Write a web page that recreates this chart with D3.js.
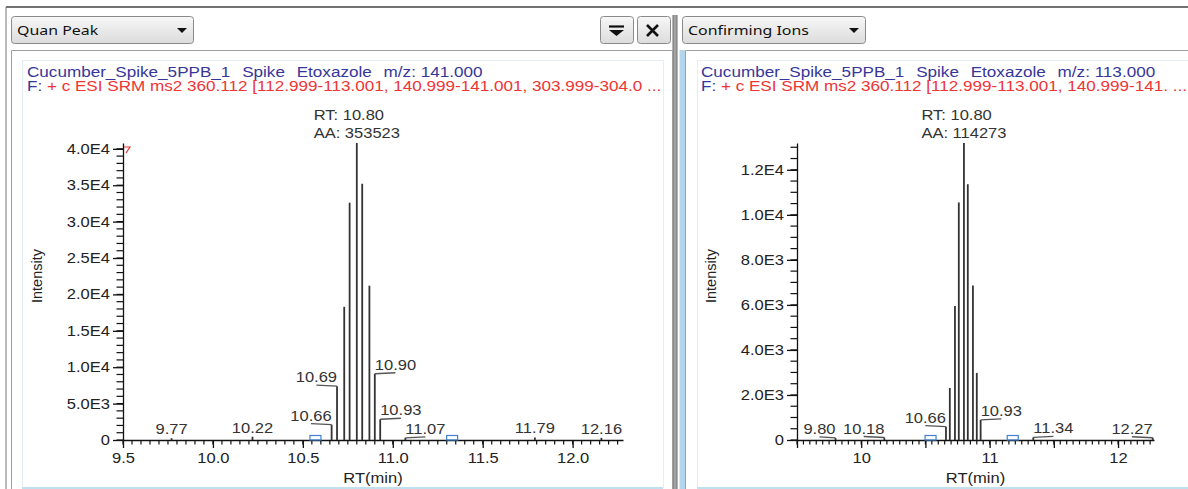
<!DOCTYPE html>
<html>
<head>
<meta charset="utf-8">
<script src="https://cdn.jsdelivr.net/npm/d3@7"></script>
<style>
body { margin: 0; background: #fff; }
svg { display: block; font-family: "Liberation Sans", Arial, sans-serif; }
.axis path, .axis line { stroke: #111; stroke-width: 1.3; }
.axis text { fill: #222; font-size: 14px; font-family: "Liberation Sans", Arial, sans-serif; }
</style>
</head>
<body>
<script>
// header info
var sampleName = "Cucumber_Spike_5PPB_1", sampleType = "Spike", compound = "Etoxazole";
var quanMz = "141.000", confMz = "113.000";
var quanFilter = "+ c ESI SRM ms2 360.112 [112.999-113.001, 140.999-141.001, 303.999-304.0 ...";
var confFilter = "+ c ESI SRM ms2 360.112 [112.999-113.001, 140.999-141. ...";
var apexRT = 10.80, quanArea = 353523, confArea = 114273;

// chromatogram sticks (RT in min, intensity)
var quanRT  = [9.77, 10.22, 10.66, 10.69, 10.73, 10.76, 10.80, 10.83, 10.87, 10.90, 10.93, 11.07, 11.79, 12.16];
var quanInt = [250, 450, 2100, 7400, 18300, 32600, 40800, 35200, 21200, 9100, 2850, 300, 350, 300];
var confRT  = [9.80, 10.18, 10.66, 10.69, 10.73, 10.76, 10.80, 10.83, 10.87, 10.90, 10.93, 11.34, 12.27];
var confInt = [90, 110, 590, 2310, 5950, 10550, 13190, 11360, 6860, 2980, 890, 120, 100];

// labelled peaks and which side the label sits
var quanLabelRT = [9.77, 10.22, 10.66, 10.69, 10.90, 10.93, 11.07, 11.79, 12.16];
var quanLabelSide = ["c", "c", "l", "l", "r", "r", "r", "c", "c"];
var confLabelRT = [9.80, 10.18, 10.66, 10.93, 11.34, 12.27];
var confLabelSide = ["l", "l", "l", "r", "r", "l"];

// integration boundaries
var quanBounds = [10.57, 11.33];
var confBounds = [10.54, 11.18];

// axis ticks
var rtDomain = [9.5, 12.28];
var xTicks = [9.5, 10.0, 10.5, 11.0, 11.5, 12.0];
var quanYTicks = [0, 5000, 10000, 15000, 20000, 25000, 30000, 35000, 40000];
var confYTicks = [0, 2000, 4000, 6000, 8000, 10000, 12000];

var SX = 1.18; // screenshot is stretched horizontally

var svg = d3.select("body").append("svg").attr("width", 1188).attr("height", 489);

function txt(g, x, y, s, anchor, size) {
	return g.append("text")
		.attr("transform", "translate(" + x + "," + y + ") scale(" + SX + ",1)")
		.attr("text-anchor", anchor || "start")
		.style("font-size", (size || 14) + "px")
		.text(s);
}

var defs = svg.append("defs");
var grad = defs.append("linearGradient").attr("id", "btn").attr("x1", 0).attr("y1", 0).attr("x2", 0).attr("y2", 1);
grad.append("stop").attr("offset", "0%").attr("stop-color", "#f7f7f7");
grad.append("stop").attr("offset", "100%").attr("stop-color", "#dcdcdc");

// window frame
svg.append("line").attr("x1", 6).attr("y1", 7).attr("x2", 1188).attr("y2", 7).style("stroke", "#444").style("stroke-width", 1.3);
svg.append("line").attr("x1", 6).attr("y1", 7).attr("x2", 6).attr("y2", 489).style("stroke", "#777");

function dropdown(x, w, label) {
	svg.append("rect").attr("x", x + 0.5).attr("y", 16.5).attr("width", w).attr("height", 27)
		.attr("rx", 3).style("fill", "url(#btn)").style("stroke", "#8a8a8a");
	txt(svg, x + 6, 35, label, "start", 13.5).style("font-family", "'Noto Sans', sans-serif").style("fill", "#111");
	svg.append("path").attr("d", "M" + (x + w - 16) + ",28 h10 l-5,5 z").style("fill", "#111");
}
dropdown(11, 182, "Quan Peak");
dropdown(682, 183, "Confirming Ions");

// small buttons
svg.append("rect").attr("x", 600.5).attr("y", 16.5).attr("width", 33).attr("height", 27).attr("rx", 3)
	.style("fill", "url(#btn)").style("stroke", "#8a8a8a");
svg.append("path").attr("d", "M609,26.5 h15").style("stroke", "#111").style("stroke-width", 2.2);
svg.append("path").attr("d", "M609,30 h15 l-7.5,6 z").style("fill", "#111");
svg.append("rect").attr("x", 637.5).attr("y", 16.5).attr("width", 33).attr("height", 27).attr("rx", 3)
	.style("fill", "url(#btn)").style("stroke", "#8a8a8a");
svg.append("path").attr("d", "M647,25 l11,11 M658,25 l-11,11").style("stroke", "#111").style("stroke-width", 2.6);

// splitter
svg.append("rect").attr("x", 673).attr("y", 15).attr("width", 4).attr("height", 474).style("fill", "#a3a3a3");
svg.append("line").attr("x1", 673).attr("y1", 15).attr("x2", 673).attr("y2", 489).style("stroke", "#6f6f6f");
svg.append("line").attr("x1", 677).attr("y1", 15).attr("x2", 677).attr("y2", 489).style("stroke", "#6f6f6f");
svg.append("rect").attr("x", 679.5).attr("y", 50).attr("width", 5.5).attr("height", 439).style("fill", "#b3d7ea");

function drawPanel(p) {
	var g = svg.append("g");

	// panel frame
	g.append("path").attr("d", "M" + p.fx0 + ",489 V50.5 H" + p.fx1 + (p.fx1 < 1188 ? " V489" : ""))
		.style("fill", "none").style("stroke", "#a0a0a0");
	g.append("rect").attr("x", p.bx0 + 0.5).attr("y", 60.5).attr("width", p.bx1 - p.bx0).attr("height", 427)
		.style("fill", "none").style("stroke", "#e4eef5");
	g.append("line").attr("x1", p.bx0).attr("y1", 488).attr("x2", p.bx1).attr("y2", 488)
		.style("stroke", "#bfe0ef").style("stroke-width", 2);

	var x = d3.scaleLinear().domain(rtDomain).range([p.x0, p.x1]);
	var y = d3.scaleLinear().domain([0, d3.max(p.ints)]).range([440, 143]);

	// header
	var tx = p.x0 - 96;
	var t1 = g.append("text").attr("transform", "translate(" + tx + ",77) scale(" + SX + ",1)")
		.style("font-size", "14.5px").style("fill", "#36369a");
	t1.append("tspan").text(sampleName);
	t1.append("tspan").attr("dx", 10).text(sampleType);
	t1.append("tspan").attr("dx", 10).text(compound);
	t1.append("tspan").attr("dx", 10).text("m/z: " + p.mz);
	var t2 = g.append("text").attr("transform", "translate(" + tx + ",91) scale(" + SX + ",1)")
		.style("font-size", "14.5px").style("white-space", "pre");
	t2.append("tspan").style("fill", "#36369a").text("F: ");
	t2.append("tspan").style("fill", "#ee3535").text(p.filter);

	// minor ticks
	var minorX = d3.range(190, 246).map(function(d) { return d / 20; });
	g.selectAll(".mx").data(minorX).enter().append("line").attr("class", "mx")
		.attr("x1", function(d) { return x(d); }).attr("x2", function(d) { return x(d); })
		.attr("y1", 440).attr("y2", 444.5)
		.style("stroke", "#111").style("stroke-width", 1.2);
	var minorY = d3.range(0, d3.max(p.ints), p.yMinor);
	g.selectAll(".my").data(minorY).enter().append("line").attr("class", "my")
		.attr("y1", function(d) { return y(d); }).attr("y2", function(d) { return y(d); })
		.attr("x1", p.x0 - 6.5).attr("x2", p.x0)
		.style("stroke", "#111").style("stroke-width", 1.2);

	// major axes
	var fmtE = function(d) { return d === 0 ? "0" : d3.format(".1e")(d).replace("e+", "E"); };
	var xa = g.append("g").attr("class", "axis").attr("transform", "translate(0,440)")
		.call(d3.axisBottom(x).tickValues(xTicks).tickSize(8).tickSizeOuter(0).tickPadding(5).tickFormat(p.xFmt));
	var ya = g.append("g").attr("class", "axis").attr("transform", "translate(" + p.x0 + ",0)")
		.call(d3.axisLeft(y).tickValues(p.yTicks).tickSize(10).tickSizeOuter(0).tickPadding(3).tickFormat(fmtE));
	[xa, ya].forEach(function(a) {
		a.selectAll("text").each(function() {
			var s = d3.select(this), tx0 = +s.attr("x") || 0;
			s.attr("x", 0).attr("transform", "translate(" + tx0 + ",0) scale(" + SX + ",1)");
		});
	});

	// axis titles
	txt(g, (p.x0 + p.x1) / 2, 483, "RT(min)", "middle").style("fill", "#222");
	g.append("text").attr("transform", "translate(" + (p.x0 - 81) + ",276) rotate(-90)")
		.attr("text-anchor", "middle").style("font-size", "14.5px").style("fill", "#222").text("Intensity");

	// sticks
	g.selectAll(".stick").data(p.rts).enter().append("line").attr("class", "stick")
		.attr("x1", function(d) { return x(d); }).attr("x2", function(d) { return x(d); })
		.attr("y1", y(0)).attr("y2", function(d, i) { return y(p.ints[i]); })
		.style("stroke", "#333").style("stroke-width", 1.8);

	// boundaries
	g.selectAll(".bound").data(p.bounds).enter().append("rect").attr("class", "bound")
		.attr("x", function(d) { return x(d) - 5.5; }).attr("y", 435.5).attr("width", 11).attr("height", 4.5)
		.style("fill", "none").style("stroke", "#3f82d2").style("stroke-width", 1.2);

	// peak labels
	p.labelRT.forEach(function(rt, i) {
		var k = d3.minIndex(p.rts, function(d) { return Math.abs(d - rt); });
		var px = x(p.rts[k]), py = y(p.ints[k]);
		var side = p.labelSide[i];
		var t = txt(g, px, py - 4, rt.toFixed(2), side === "l" ? "end" : side === "r" ? "start" : "middle")
			.style("fill", "#333");
		if (side !== "c") {
			var w = t.node().getComputedTextLength() * SX;
			var mx = side === "l" ? px - w / 2 : px + w / 2;
			g.append("line").attr("x1", px).attr("y1", py).attr("x2", mx).attr("y2", py - 1)
				.style("stroke", "#555").style("stroke-width", 1.3);
		}
	});

	// apex annotation
	var ka = d3.maxIndex(p.ints);
	var ax = x(p.rts[ka]), ay = y(p.ints[ka]);
	var aa = txt(g, 0, 0, "AA: " + p.area, "start").style("fill", "#333");
	var aw = aa.node().getComputedTextLength() * SX;
	aa.attr("transform", "translate(" + (ax - aw / 2) + "," + (ay - 5) + ") scale(" + SX + ",1)");
	txt(g, ax - aw / 2, ay - 23, "RT: " + apexRT.toFixed(2), "start").style("fill", "#333");

	if (p.marker) {
		g.append("path").attr("d", "M" + (p.x0 + 1) + "," + (ay + 4) + " h6 l-4,6")
			.style("fill", "none").style("stroke", "#e33").style("stroke-width", 1.2);
	}
}

drawPanel({
	fx0: 11.5, fx1: 672.5, bx0: 22, bx1: 663, x0: 123, x1: 623,
	mz: quanMz, filter: quanFilter, rts: quanRT, ints: quanInt,
	labelRT: quanLabelRT, labelSide: quanLabelSide, bounds: quanBounds,
	yTicks: quanYTicks, yMinor: 1000, area: quanArea, marker: true,
	xFmt: d3.format(".1f")
});
drawPanel({
	fx0: 685.5, fx1: 1188, bx0: 697, bx1: 1188, x0: 797, x1: 1154,
	mz: confMz, filter: confFilter, rts: confRT, ints: confInt,
	labelRT: confLabelRT, labelSide: confLabelSide, bounds: confBounds,
	yTicks: confYTicks, yMinor: 500, area: confArea, marker: false,
	xFmt: function(d) { return Number.isInteger(d) ? d : ""; }
});
</script>
</body>
</html>
